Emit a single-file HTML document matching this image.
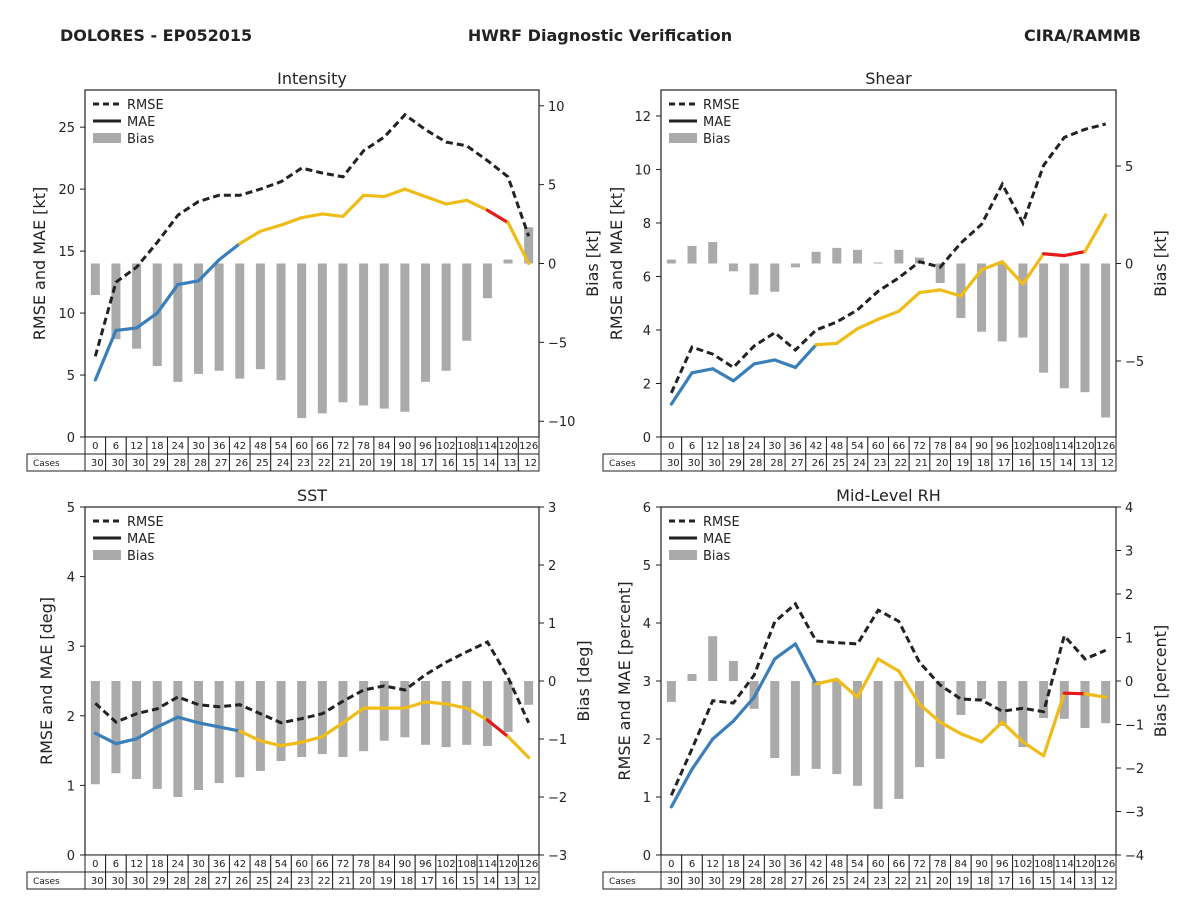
<!DOCTYPE html>
<html><head><meta charset="utf-8">
<style>
body{margin:0;background:#fff;}
svg{font-family:"DejaVu Sans","Liberation Sans",sans-serif;}
</style></head>
<body>
<svg id="c" width="1200" height="900" viewBox="0 0 1200 900" xmlns="http://www.w3.org/2000/svg">
<rect width="1200" height="900" fill="#fff"/>
<text x="60" y="41" font-size="16" font-weight="bold" fill="#222">DOLORES - EP052015</text>
<text x="600" y="41" font-size="16" font-weight="bold" fill="#222" text-anchor="middle">HWRF Diagnostic Verification</text>
<text x="1141" y="41" font-size="16" font-weight="bold" fill="#222" text-anchor="end">CIRA/RAMMB</text>
</svg>
<script>
const hours=[0,6,12,18,24,30,36,42,48,54,60,66,72,78,84,90,96,102,108,114,120,126];
const cases=[30,30,30,29,28,28,27,26,25,24,23,22,21,20,19,18,17,16,15,14,13,12];

const intRmse=[6.5,12.5,13.7,15.7,17.9,19.0,19.5,19.5,20.0,20.6,21.7,21.3,21.0,23.1,24.2,26.0,24.8,23.8,23.5,22.3,21.0,16.2];
const intMae=[4.6,8.6,8.8,10.0,12.3,12.6,14.3,15.6,16.6,17.1,17.7,18.0,17.8,19.5,19.4,20.0,19.4,18.8,19.1,18.3,17.3,14.0];
const intBias=[-2.0,-4.8,-5.4,-6.5,-7.5,-7.0,-6.8,-7.3,-6.7,-7.4,-9.8,-9.5,-8.8,-9.0,-9.2,-9.4,-7.5,-6.8,-4.9,-2.2,0.25,2.3];
const intSeg=['b','b','b','b','b','b','b','y','y','y','y','y','y','y','y','y','y','y','y','r','y'];

const shRmse=[1.65,3.36,3.1,2.6,3.4,3.9,3.25,4.0,4.3,4.75,5.45,5.95,6.55,6.35,7.25,7.95,9.45,8.0,10.15,11.2,11.5,11.7];
const shMae=[1.23,2.4,2.55,2.1,2.73,2.88,2.6,3.45,3.5,4.05,4.4,4.7,5.4,5.5,5.27,6.25,6.55,5.72,6.85,6.78,6.93,8.3];
const shBias=[0.2,0.9,1.1,-0.4,-1.6,-1.45,-0.2,0.6,0.8,0.7,0.05,0.7,0.3,-1.0,-2.8,-3.5,-4.0,-3.8,-5.6,-6.4,-6.6,-7.9];
const shSeg=['b','b','b','b','b','b','b','y','y','y','y','y','y','y','y','y','y','y','r','r','y'];

const sstRmse=[2.18,1.91,2.03,2.1,2.27,2.16,2.13,2.16,2.03,1.9,1.96,2.03,2.21,2.37,2.43,2.37,2.59,2.77,2.92,3.06,2.55,1.9];
const sstMae=[1.75,1.6,1.67,1.84,1.98,1.9,1.84,1.78,1.64,1.57,1.62,1.7,1.9,2.11,2.11,2.11,2.2,2.17,2.11,1.94,1.7,1.4];
const sstBias=[-1.78,-1.59,-1.69,-1.86,-2.0,-1.88,-1.76,-1.66,-1.55,-1.38,-1.31,-1.26,-1.31,-1.21,-1.03,-0.97,-1.1,-1.14,-1.1,-1.12,-0.88,-0.41];
const sstSeg=['b','b','b','b','b','b','b','y','y','y','y','y','y','y','y','y','y','y','y','r','y'];

const rhRmse=[1.03,1.83,2.66,2.62,3.1,4.02,4.33,3.69,3.66,3.64,4.22,4.03,3.32,2.93,2.69,2.67,2.48,2.53,2.47,3.78,3.38,3.53];
const rhMae=[0.83,1.48,2.0,2.31,2.72,3.38,3.64,2.95,3.03,2.72,3.38,3.17,2.6,2.29,2.09,1.95,2.29,1.95,1.71,2.79,2.78,2.72];
const rhBias=[-0.48,0.16,1.03,0.46,-0.64,-1.77,-2.18,-2.02,-2.14,-2.41,-2.94,-2.71,-1.98,-1.79,-0.78,-0.41,-1.03,-1.52,-0.85,-0.87,-1.08,-0.97];
const rhSeg=['b','b','b','b','b','b','b','y','y','y','y','y','y','y','y','y','y','y','y','r','y'];

const NS="http://www.w3.org/2000/svg";
const svg=document.getElementById('c');
const COL={b:'#3a7fba',y:'#f0bc18',r:'#e41a1c'};
function mk(tag,attrs,parent,text){const e=document.createElementNS(NS,tag);for(const k in attrs)e.setAttribute(k,attrs[k]);if(text!==undefined)e.textContent=text;(parent||svg).appendChild(e);return e;}

const panels=[
 {key:'intensity',title:'Intensity',x0:85,x1:539,y0:90,y1:437,lmax:28,lt:[0,5,10,15,20,25],rmin:-11,rmax:11,rt:[-10,-5,0,5,10],yl:'RMSE and MAE [kt]',rl:'Bias [kt]',rmse:intRmse,mae:intMae,bias:intBias,seg:intSeg,lx:45,rx:598},
 {key:'shear',title:'Shear',x0:661,x1:1116,y0:90,y1:437,lmax:12.97,lt:[0,2,4,6,8,10,12],rmin:-8.9,rmax:8.9,rt:[-5,0,5],yl:'RMSE and MAE [kt]',rl:'Bias [kt]',rmse:shRmse,mae:shMae,bias:shBias,seg:shSeg,lx:622,rx:1166},
 {key:'sst',title:'SST',x0:85,x1:539,y0:507,y1:855,lmax:5,lt:[0,1,2,3,4,5],rmin:-3,rmax:3,rt:[-3,-2,-1,0,1,2,3],yl:'RMSE and MAE [deg]',rl:'Bias [deg]',rmse:sstRmse,mae:sstMae,bias:sstBias,seg:sstSeg,lx:52,rx:589},
 {key:'rh',title:'Mid-Level RH',x0:661,x1:1116,y0:507,y1:855,lmax:6,lt:[0,1,2,3,4,5,6],rmin:-4,rmax:4,rt:[-4,-3,-2,-1,0,1,2,3,4],yl:'RMSE and MAE [percent]',rl:'Bias [percent]',rmse:rhRmse,mae:rhMae,bias:rhBias,seg:rhSeg,lx:630,rx:1166}
];

panels.forEach(p=>{
 const g=mk('g',{});
 
 
 const n=hours.length, cw=(p.x1-p.x0)/n;
 const X=i=>p.x0+cw*(i+0.5);
 const YL=v=>p.y1-(v/p.lmax)*(p.y1-p.y0);
 const YR=v=>p.y1-(v-p.rmin)/(p.rmax-p.rmin)*(p.y1-p.y0);
 const t=mk('text',{x:(p.x0+p.x1)/2,y:p.y0-6,'font-size':16,'text-anchor':'middle',fill:'#222'},g,p.title);
 
 
 const bg=mk('g',{},g);
 
 
 p.bias.forEach((v,i)=>{
  const y0=YR(0),y=YR(v);
  const r=mk('rect',{x:X(i)-4.5,y:Math.min(y0,y),width:9,height:Math.abs(y-y0),fill:'#aaaaaa'},bg);
  
  
 });
 let d=p.rmse.map((v,i)=>(i?'L':'M')+X(i).toFixed(1)+','+YL(v).toFixed(1)).join('');
 const rl=mk('path',{d:d,fill:'none',stroke:'#222','stroke-width':3,'stroke-dasharray':'7,4'},g);
 
 
 const mg=mk('g',{},g);
 
 
 for(let i=0;i<n-1;i++){
  const s=mk('line',{x1:X(i),y1:YL(p.mae[i]),x2:X(i+1),y2:YL(p.mae[i+1]),stroke:COL[p.seg[i]],'stroke-width':3.2,'stroke-linecap':'round'},mg);
  
  
 }
 const f=mk('rect',{x:p.x0,y:p.y0,width:p.x1-p.x0,height:p.y1-p.y0,fill:'none',stroke:'#222','stroke-width':1.2},g);
 
 
 p.lt.forEach(v=>{
  mk('line',{x1:p.x0-5,x2:p.x0,y1:YL(v),y2:YL(v),stroke:'#222'},g);
  const tl=mk('text',{x:p.x0-10,y:YL(v)+5,'font-size':13,'text-anchor':'end',fill:'#222'},g,String(v));
  
  
 });
 p.rt.forEach(v=>{
  mk('line',{x1:p.x1,x2:p.x1+5,y1:YR(v),y2:YR(v),stroke:'#222'},g);
  const tl=mk('text',{x:p.x1+9,y:YR(v)+5,'font-size':13,fill:'#222'},g,(v<0?'\u2212'+(-v):String(v)));
  
  
 });
 const cy=(p.y0+p.y1)/2;
 const ylb=mk('text',{x:p.lx,y:cy,'font-size':16,'text-anchor':'middle',fill:'#222',transform:`rotate(-90 ${p.lx} ${cy})`},g,p.yl);
 
 
 const rlb=mk('text',{x:p.rx,y:cy,'font-size':16,'text-anchor':'middle',fill:'#222',transform:`rotate(-90 ${p.rx} ${cy})`},g,p.rl);
 
 
 const lg=mk('g',{},g);
 
 
 const lx=p.x0+8, ly=p.y0+14;
 mk('line',{x1:lx,x2:lx+28,y1:ly,y2:ly,stroke:'#222','stroke-width':3,'stroke-dasharray':'6,4'},lg);
 mk('text',{x:lx+34,y:ly+5,'font-size':13,fill:'#222'},lg,'RMSE');
 mk('line',{x1:lx,x2:lx+28,y1:ly+17,y2:ly+17,stroke:'#222','stroke-width':3},lg);
 mk('text',{x:lx+34,y:ly+22,'font-size':13,fill:'#222'},lg,'MAE');
 mk('rect',{x:lx,y:ly+29,width:28,height:10,fill:'#aaaaaa'},lg);
 mk('text',{x:lx+34,y:ly+39,'font-size':13,fill:'#222'},lg,'Bias');
 const tg=mk('g',{},g);
 
 
 const ty=p.y1, rh=17;
 mk('rect',{x:p.x0-58,y:ty+rh,width:58,height:rh,fill:'#fff',stroke:'#222'},tg);
 mk('text',{x:p.x0-52,y:ty+rh+12,'font-size':9,fill:'#222'},tg,'Cases');
 hours.forEach((h,i)=>{
  const cx=p.x0+cw*i;
  mk('rect',{x:cx,y:ty,width:cw,height:rh,fill:'#fff',stroke:'#222'},tg);
  mk('text',{x:cx+cw/2,y:ty+12,'font-size':10,'text-anchor':'middle',fill:'#222'},tg,String(h));
  mk('rect',{x:cx,y:ty+rh,width:cw,height:rh,fill:'#fff',stroke:'#222'},tg);
  mk('text',{x:cx+cw-2,y:ty+rh+12,'font-size':10,'text-anchor':'end',fill:'#222'},tg,String(cases[i]));
 });
});
</script>
</body></html>
